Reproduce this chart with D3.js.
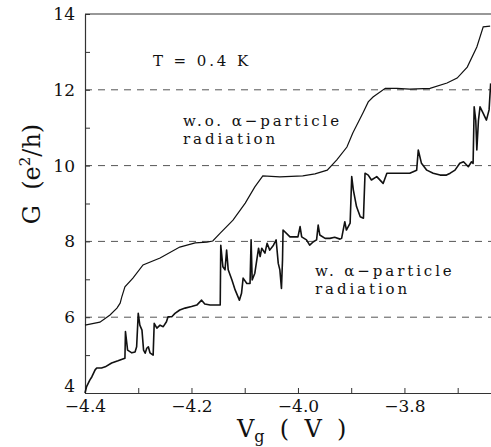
<!DOCTYPE html>
<html>
<head>
<meta charset="utf-8">
<script src="https://cdn.jsdelivr.net/npm/d3@7"></script>
<style>
  body { margin: 0; background: #fff; }
</style>
</head>
<body>
<script>
// conductance without alpha-particle radiation (upper trace)
const woVg = [-4.400, -4.372, -4.353, -4.340, -4.334, -4.331, -4.325, -4.310, -4.291, -4.259,
  -4.222, -4.193, -4.171, -4.160, -4.146, -4.122, -4.099, -4.081, -4.066, -4.034,
  -3.991, -3.968, -3.945, -3.927, -3.908, -3.897, -3.878, -3.868, -3.859, -3.836,
  -3.814, -3.790, -3.752, -3.720, -3.701, -3.682, -3.664, -3.652, -3.639];
const woG = [5.79, 5.87, 6.06, 6.24, 6.37, 6.53, 6.80, 7.03, 7.38, 7.56,
  7.85, 7.96, 7.98, 8.01, 8.22, 8.56, 9.01, 9.44, 9.73, 9.70,
  9.73, 9.78, 9.88, 10.15, 10.49, 10.86, 11.39, 11.68, 11.81, 12.04,
  12.04, 12.02, 12.04, 12.18, 12.31, 12.60, 13.13, 13.66, 13.68];

// conductance with alpha-particle radiation (lower, noisy trace)
const wVg = [-4.400, -4.397, -4.391, -4.387, -4.381, -4.378, -4.369, -4.362, -4.350, -4.338,
  -4.329, -4.325, -4.324, -4.320, -4.312, -4.306, -4.303, -4.300, -4.297, -4.293,
  -4.290, -4.287, -4.284, -4.281, -4.278, -4.272, -4.270, -4.265, -4.259, -4.253,
  -4.247, -4.244, -4.237, -4.231, -4.222, -4.212, -4.200, -4.190, -4.181, -4.175,
  -4.165, -4.156, -4.146, -4.145, -4.141, -4.137, -4.134, -4.131, -4.124, -4.118,
  -4.110, -4.106, -4.103, -4.096, -4.090, -4.088, -4.086, -4.081, -4.074, -4.071,
  -4.068, -4.062, -4.058, -4.053, -4.046, -4.041, -4.037, -4.034, -4.031, -4.029,
  -4.028, -4.015, -4.000, -3.996, -3.993, -3.984, -3.978, -3.971, -3.965, -3.962,
  -3.959, -3.949, -3.940, -3.931, -3.921, -3.918, -3.912, -3.909, -3.902, -3.899,
  -3.896, -3.890, -3.883, -3.877, -3.874, -3.868, -3.862, -3.852, -3.840, -3.833,
  -3.815, -3.790, -3.777, -3.774, -3.768, -3.758, -3.746, -3.733, -3.721, -3.714,
  -3.705, -3.696, -3.689, -3.680, -3.674, -3.671, -3.669, -3.666, -3.664, -3.661,
  -3.658, -3.652, -3.646, -3.641, -3.638];
const wG = [4.00, 4.17, 4.34, 4.43, 4.61, 4.66, 4.66, 4.69, 4.79, 4.85,
  4.90, 4.92, 5.62, 5.13, 5.06, 5.08, 5.22, 6.10, 5.79, 5.66,
  5.13, 5.05, 5.18, 5.22, 5.06, 5.00, 5.84, 5.71, 5.79, 5.75,
  5.88, 6.01, 6.01, 6.10, 6.19, 6.24, 6.28, 6.32, 6.45, 6.35,
  6.32, 6.32, 6.32, 7.90, 7.33, 7.25, 7.77, 7.25, 6.98, 6.72,
  6.45, 6.63, 7.03, 6.89, 6.89, 8.04, 6.98, 7.16, 7.82, 7.60,
  7.82, 7.69, 7.95, 7.77, 7.90, 8.04, 7.42, 7.25, 6.76, 7.51,
  8.30, 8.12, 8.12, 8.39, 8.12, 8.04, 7.90, 7.99, 8.04, 8.43,
  8.17, 8.08, 8.08, 8.11, 8.06, 8.08, 8.52, 8.30, 8.48, 9.71,
  9.36, 8.92, 8.65, 8.61, 9.80, 9.75, 9.62, 9.71, 9.53, 9.80,
  9.80, 9.80, 9.88, 10.41, 10.06, 9.88, 9.80, 9.75, 9.75, 9.80,
  9.88, 10.06, 10.10, 9.97, 10.10, 10.06, 11.55, 11.19, 10.41, 11.19,
  11.55, 11.38, 11.20, 11.47, 12.17];

const xTicks = [-4.4, -4.3, -4.2, -4.1, -4.0, -3.9, -3.8, -3.7];
const xLabels = [-4.4, -4.2, -4.0, -3.8];
const yTicks = [4, 5, 6, 7, 8, 9, 10, 11, 12, 13, 14];
const yLabels = [4, 6, 8, 10, 12, 14];
const plateaus = [6, 8, 10, 12];

const serif = "DejaVu Serif";
const width = 491, height = 447;
const margin = {left: 85, right: 0, top: 14, bottom: 54};

const svg = d3.select("body").append("svg")
  .attr("width", width)
  .attr("height", height);

const x = d3.scaleLinear()
  .domain([-4.4, -3.6374])
  .range([margin.left, width - margin.right]);

const y = d3.scaleLinear()
  .domain([4, 14])
  .range([height - margin.bottom, margin.top]);

// dashed plateau lines
svg.selectAll("line.plateau")
  .data(plateaus)
  .enter().append("line")
  .attr("class", "plateau")
  .attr("x1", x.range()[0])
  .attr("x2", x.range()[1])
  .attr("y1", d => y(d))
  .attr("y2", d => y(d))
  .attr("stroke", "#555")
  .attr("stroke-width", 1)
  .attr("stroke-dasharray", "7,6");

const xAxis = d3.axisBottom(x)
  .tickValues(xTicks)
  .tickSizeInner(-5)
  .tickSizeOuter(0)
  .tickPadding(7)
  .tickFormat(d => xLabels.some(v => Math.abs(v - d) < 1e-9) ? d3.format(".1f")(d) : "");

const yAxis = d3.axisLeft(y)
  .tickValues(yTicks)
  .tickSizeInner(-5)
  .tickSizeOuter(0)
  .tickPadding(10)
  .tickFormat(d => yLabels.includes(d) ? d : "");

const gx = svg.append("g")
  .attr("class", "x axis")
  .attr("transform", "translate(0," + y(4) + ")")
  .call(xAxis);

const gy = svg.append("g")
  .attr("class", "y axis")
  .attr("transform", "translate(" + x(-4.4) + ",0)")
  .call(yAxis);

[gx, gy].forEach(g => {
  g.attr("font-family", serif).attr("font-size", 17);
  g.selectAll("text").attr("fill", "#111");
  g.selectAll("path, line").attr("stroke", "#333");
  g.select("path").attr("stroke-width", 1.2);
});
// lift the corner "4" so it clears "−4.4"
gy.selectAll(".tick text").filter(d => d === 4).attr("dy", "-0.06em");

// top frame line
svg.append("line")
  .attr("x1", x.range()[0]).attr("x2", x.range()[1])
  .attr("y1", y(14)).attr("y2", y(14))
  .attr("stroke", "#333").attr("stroke-width", 1.2);

const line = d3.line()
  .x(d => x(d[0]))
  .y(d => y(d[1]));

svg.append("path")
  .datum(d3.zip(woVg, woG))
  .attr("d", line)
  .attr("fill", "none")
  .attr("stroke", "#111")
  .attr("stroke-width", 1.2);

svg.append("path")
  .datum(d3.zip(wVg, wG))
  .attr("d", line)
  .attr("fill", "none")
  .attr("stroke", "#111")
  .attr("stroke-width", 1.6)
  .attr("stroke-linejoin", "round");

// annotations
function note(px, py, str) {
  svg.append("text")
    .attr("x", px).attr("y", py)
    .attr("font-family", serif)
    .attr("font-size", 15)
    .attr("letter-spacing", 2.9)
    .attr("fill", "#111")
    .attr("xml:space", "preserve")
    .text(str);
}
note(153, 66, "T = 0.4 K");
note(183, 126, "w.o. α−particle");
note(183, 144, "radiation");
note(315, 276, "w. α−particle");
note(315, 294, "radiation");

// axis titles
const yt = svg.append("text")
  .attr("transform", "translate(40,174) rotate(-90)")
  .attr("text-anchor", "middle")
  .attr("font-family", serif)
  .attr("font-size", 24)
  .attr("fill", "#111")
  .attr("xml:space", "preserve");
yt.append("tspan").text("G  (e");
yt.append("tspan").attr("font-size", 15).attr("dy", -10).text("2");
yt.append("tspan").attr("dy", 10).text("/h)");

const xt = svg.append("text")
  .attr("x", 237).attr("y", 437)
  .attr("font-family", serif)
  .attr("font-size", 24)
  .attr("fill", "#111")
  .attr("xml:space", "preserve");
xt.append("tspan").text("V");
xt.append("tspan").attr("font-size", 16).attr("dy", 5).text("g");
xt.append("tspan").attr("dy", -5).text("  (  V  )");
</script>
</body>
</html>
